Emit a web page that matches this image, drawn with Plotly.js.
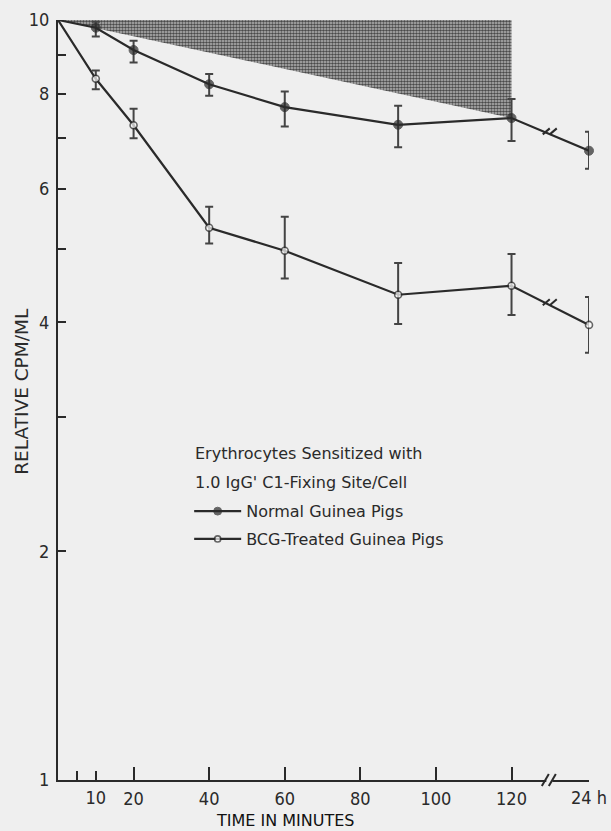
<!DOCTYPE html>
<html>
<head>
<meta charset="utf-8">
<script src="https://cdn.plot.ly/plotly-3.0.1.min.js"></script>
<style>html,body{margin:0;padding:0;background:#efefef;}#chart{width:611px;height:831px;}</style>
</head>
<body>
<div id="chart"></div>
<script>
// Time in minutes; the last point is the 24 h sample, drawn after an axis break
var timeMin = [0, 10, 20, 40, 60, 90, 120, 140.5];
var timeTickVals = [20, 40, 60, 80, 100, 120];
var timeTickText = ['20', '40', '60', '80', '100', '120'];
var minorTickVals = [5, 10, 140.5];
var minorTickText = ['', '10', '24 h'];
var breakAt = 130;

// Normal guinea pigs (filled circles)
var normalVals  = [10, 9.77, 9.13, 8.23, 7.68, 7.28, 7.43, 6.73];
var normalUpper = [null, 9.95, 9.39, 8.49, 8.05, 7.71, 7.87, 7.13];
var normalLower = [null, 9.51, 8.79, 7.95, 7.24, 6.80, 6.93, 6.37];

// BCG-treated guinea pigs (open circles)
var bcgVals  = [10, 8.37, 7.27, 5.33, 4.97, 4.35, 4.47, 3.97];
var bcgUpper = [null, 8.58, 7.64, 5.68, 5.51, 4.79, 4.92, 4.32];
var bcgLower = [null, 8.11, 6.99, 5.08, 4.57, 3.98, 4.09, 3.65];

var yTickVals = [1, 2, 3, 4, 5, 6, 7, 8, 9, 10];
var yTickText = ['1', '2', '', '4', '', '6', '', '8', '', '10'];

var ink = '#2a2a2a';
var bg = '#efefef';
var txtFont = 'DejaVu Sans, sans-serif';
var numFont = 'Liberation Sans Narrow, DejaVu Sans Condensed, sans-serif';

function errPlus(v, u) { return v.map(function (d, i) { return u[i] == null ? NaN : u[i] - d; }); }
function errMinus(v, l) { return v.map(function (d, i) { return l[i] == null ? NaN : d - l[i]; }); }
var markerSizes = timeMin.map(function (t) { return t === 0 ? 0 : 9; });

var i120 = timeMin.indexOf(120);
var shade = {
  x: [timeMin[0], 120, 120, timeMin[0]],
  y: [normalVals[0], normalVals[0], normalVals[i120], normalVals[0]],
  mode: 'lines', line: {width: 0}, fill: 'toself',
  fillcolor: '#b4b4b4',
  fillpattern: {shape: '.', fgcolor: '#4a4a4a', bgcolor: '#bdbdbd', size: 3, solidity: 0.6},
  showlegend: false, hoverinfo: 'skip', xaxis: 'x', yaxis: 'y'
};

var normal = {
  x: timeMin, y: normalVals, name: 'Normal Guinea Pigs',
  mode: 'lines+markers', legendgroup: 'a',
  line: {color: ink, width: 2.2},
  marker: {color: ink, size: markerSizes, symbol: 'circle', line: {color: ink, width: 1}},
  error_y: {type: 'data', symmetric: false, array: errPlus(normalVals, normalUpper),
            arrayminus: errMinus(normalVals, normalLower), color: '#444', thickness: 2, width: 4},
  cliponaxis: false, xaxis: 'x2', yaxis: 'y'
};
var bcg = {
  x: timeMin, y: bcgVals, name: 'BCG-Treated Guinea Pigs',
  mode: 'lines+markers', legendgroup: 'b',
  line: {color: ink, width: 2.2},
  marker: {color: '#ffffff', size: markerSizes.map(function (s) { return s ? 7 : 0; }), symbol: 'circle', line: {color: ink, width: 1.6}},
  error_y: {type: 'data', symmetric: false, array: errPlus(bcgVals, bcgUpper),
            arrayminus: errMinus(bcgVals, bcgLower), color: '#444', thickness: 2, width: 4},
  cliponaxis: false, xaxis: 'x2', yaxis: 'y'
};

// break marks "//"
function slashPair(xa, ya, yref) {
  return [-4, 3].map(function (off) {
    return {type: 'line', xref: 'x', yref: yref, xsizemode: 'pixel', ysizemode: 'pixel',
            xanchor: xa, yanchor: ya, x0: off - 3.5, x1: off + 3.5, y0: -6, y1: 6,
            line: {color: ink, width: 2}, layer: 'above'};
  });
}
var n = timeMin.length;
var midX = (timeMin[n - 2] + timeMin[n - 1]) / 2;
var shapes = [];
shapes.push({type: 'rect', xref: 'x', yref: 'paper', xsizemode: 'pixel', ysizemode: 'pixel',
             xanchor: breakAt, yanchor: 0, x0: -3, x1: 3, y0: -3, y1: 3,
             fillcolor: bg, line: {width: 0}, layer: 'above'});
shapes = shapes.concat(slashPair(breakAt, 0, 'paper'));
shapes = shapes.concat(slashPair(midX, Math.sqrt(normalVals[n - 2] * normalVals[n - 1]), 'y'));
shapes = shapes.concat(slashPair(midX, Math.sqrt(bcgVals[n - 2] * bcgVals[n - 1]), 'y'));

var layout = {
  width: 611, height: 831,
  margin: {l: 58, r: 22, t: 20, b: 51},
  paper_bgcolor: bg, plot_bgcolor: bg,
  showlegend: true,
  legend: {x: 0.247, y: 0.376, xanchor: 'left', yanchor: 'top', bgcolor: 'rgba(0,0,0,0)',
           font: {family: txtFont, size: 16, color: ink}, tracegroupgap: 4, itemwidth: 47},
  xaxis: {range: [0, 140.5], tickmode: 'array', tickvals: minorTickVals, ticktext: minorTickText,
          ticks: 'inside', ticklen: 9, tickwidth: 2, tickcolor: ink,
          showline: true, linewidth: 2, linecolor: ink, showgrid: false, zeroline: false,
          tickfont: {family: numFont, size: 18, color: ink}, ticklabelstandoff: 0, fixedrange: true},
  xaxis2: {overlaying: 'x', matches: 'x', anchor: 'y', side: 'bottom', range: [0, 140.5],
           tickmode: 'array', tickvals: timeTickVals, ticktext: timeTickText,
           ticks: 'inside', ticklen: 13, tickwidth: 2, tickcolor: ink,
           showline: false, showgrid: false, zeroline: false,
           tickfont: {family: numFont, size: 18, color: ink}, ticklabelstandoff: 6},
  yaxis: {type: 'log', range: [0, 1], tickmode: 'array', tickvals: yTickVals, ticktext: yTickText,
          ticks: 'inside', ticklen: 8, tickwidth: 2, tickcolor: ink,
          showline: true, linewidth: 2, linecolor: ink, showgrid: false, zeroline: false,
          tickfont: {family: numFont, size: 18, color: ink}, ticklabelstandoff: 3},
  shapes: shapes,
  annotations: [
    {text: 'RELATIVE CPM/ML', xref: 'paper', yref: 'paper', x: -0.068, y: 0.512, textangle: -90,
     showarrow: false, xanchor: 'center', yanchor: 'middle', font: {family: txtFont, size: 18.5, color: ink}},
    {text: 'TIME IN MINUTES', xref: 'paper', yref: 'paper', x: 0.428, y: -0.0535,
     showarrow: false, xanchor: 'center', yanchor: 'middle', font: {family: txtFont, size: 16, color: '#111'}},
    {text: 'Erythrocytes Sensitized with', xref: 'paper', yref: 'paper', x: 0.254, y: 0.430,
     showarrow: false, xanchor: 'left', yanchor: 'middle', font: {family: txtFont, size: 16, color: ink}},
    {text: "1.0 IgG' C1-Fixing Site/Cell", xref: 'paper', yref: 'paper', x: 0.254, y: 0.392,
     showarrow: false, xanchor: 'left', yanchor: 'middle', font: {family: txtFont, size: 16, color: ink}}
  ]
};

Plotly.newPlot('chart', [shade, normal, bcg], layout, {displayModeBar: false, staticPlot: true});
</script>
</body>
</html>
